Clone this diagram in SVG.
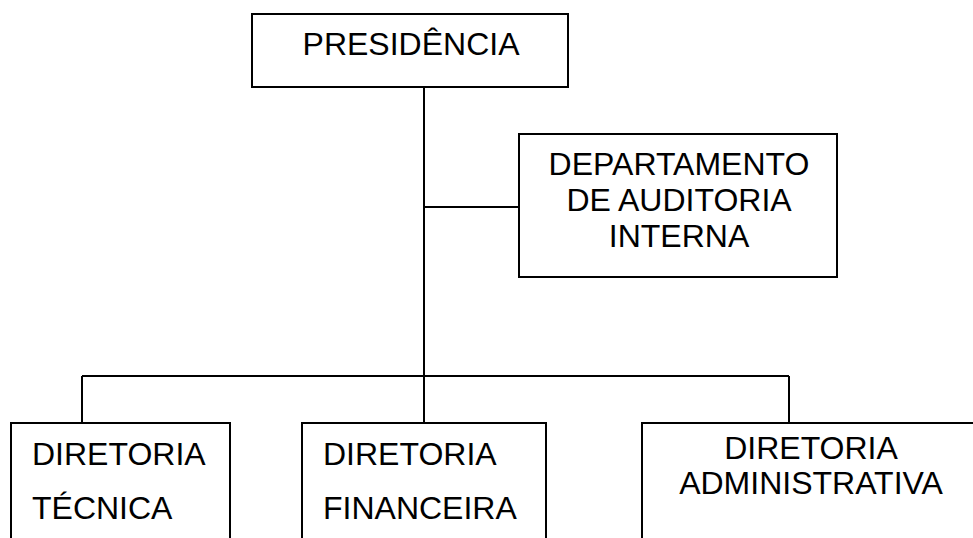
<svg xmlns="http://www.w3.org/2000/svg" width="973" height="538" viewBox="0 0 973 538">
<style>
.box{fill:#fff;stroke:#000;stroke-width:2}
.ln{fill:none;stroke:#000;stroke-width:2}
text{font-family:"Liberation Sans",Arial,sans-serif;font-size:32px;fill:#000}
.c{text-anchor:middle}
</style>
<rect width="973" height="538" fill="#fff"/>
<g id="connectors">
<line class="ln" x1="424" y1="87" x2="424" y2="423"/>
<line class="ln" x1="424" y1="207" x2="519" y2="207"/>
<line class="ln" x1="82" y1="376" x2="789" y2="376"/>
<line class="ln" x1="82" y1="376" x2="82" y2="423"/>
<line class="ln" x1="789" y1="376" x2="789" y2="423"/>
</g>
<g id="presidencia">
<rect class="box" x="252" y="14" width="316" height="73"/>
<text class="c" x="411" y="55">PRESIDÊNCIA</text>
</g>
<g id="auditoria">
<rect class="box" x="519" y="134" width="318" height="143"/>
<text class="c" x="679" y="175">DEPARTAMENTO</text>
<text class="c" x="679" y="211">DE AUDITORIA</text>
<text class="c" x="679" y="247">INTERNA</text>
</g>
<g id="tecnica">
<rect class="box" x="11" y="423" width="219" height="130"/>
<text x="32" y="465">DIRETORIA</text>
<text x="32" y="519">TÉCNICA</text>
</g>
<g id="financeira">
<rect class="box" x="302" y="423" width="244" height="130"/>
<text x="323" y="465">DIRETORIA</text>
<text x="323" y="519">FINANCEIRA</text>
</g>
<g id="administrativa">
<rect class="box" x="642" y="423" width="340" height="130"/>
<text class="c" x="811" y="459">DIRETORIA</text>
<text class="c" x="811" y="494">ADMINISTRATIVA</text>
</g>
</svg>
